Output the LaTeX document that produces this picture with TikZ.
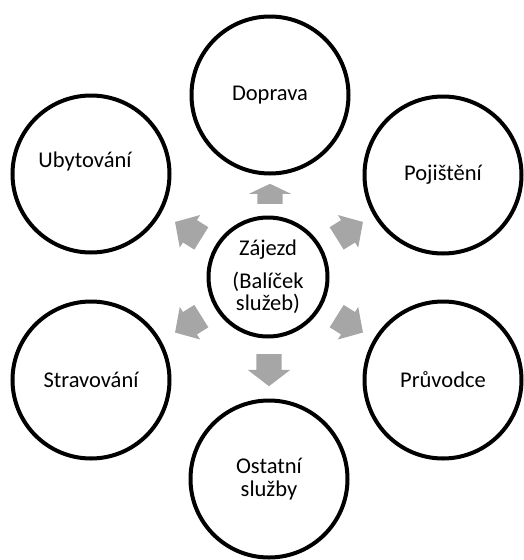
\documentclass[tikz,border=0pt]{standalone}
\usepackage{fontspec}
\setmainfont{Carlito}
\usetikzlibrary{shapes.arrows}
\definecolor{arrowgray}{HTML}{A6A6A6}
\begin{document}
\begin{tikzpicture}[x=1pt,y=-1pt,
  txt/.style={font=\fontsize{22.5}{22.5}\selectfont,align=center},
  outer/.style={circle,draw=black,line width=4pt,minimum size=157pt,inner sep=0pt,txt},
  hub/.style={circle,draw=black,line width=4pt,minimum size=119pt,inner sep=0pt,txt},
  blockarrow/.style={single arrow,fill=arrowgray,draw=none,inner xsep=0pt,anchor=tail},
  straight/.style={blockarrow,inner ysep=12.5pt,single arrow head extend=8.5pt},
  slant/.style={blockarrow,inner ysep=13pt,single arrow head extend=6pt,
    single arrow tip angle=95,minimum height=31pt}]
\useasboundingbox (0,0) rectangle (523,560);
% circles
\node[hub] (hub) at (268,277) {Zájezd\\[10pt](Balíček\\služeb)};
\node[outer] (doprava) at (270,95) {Doprava};
\node[outer] (ubyt) at (91,174) {};
\node[txt] (ubytlabel) at (85,161) {Ubytování};
\node[outer] (poj) at (443,175) {Pojištění};
\node[outer] (strav) at (91,380) {Stravování};
\node[outer] (pruv) at (443,380) {Průvodce};
\node[outer] (ostatni) at (269,479) {Ostatní\\služby};
% block arrows
\coordinate (tu) at (270,204);
\coordinate (td) at (269,354);
\coordinate (tul) at (201.5,238.5);
\coordinate (tur) at (336.5,238.5);
\coordinate (tll) at (201.5,316);
\coordinate (tlr) at (336.5,316);
\node[straight,rotate=90,minimum height=20pt,single arrow tip angle=129] (aup) at (tu) {};
\node[straight,rotate=270,minimum height=32pt,single arrow tip angle=105] (adown) at (td) {};
\node[slant,rotate=148] (aul) at (tul) {};
\node[slant,rotate=32] (aur) at (tur) {};
\node[slant,rotate=212] (all) at (tll) {};
\node[slant,rotate=328] (alr) at (tlr) {};
\end{tikzpicture}
\end{document}
